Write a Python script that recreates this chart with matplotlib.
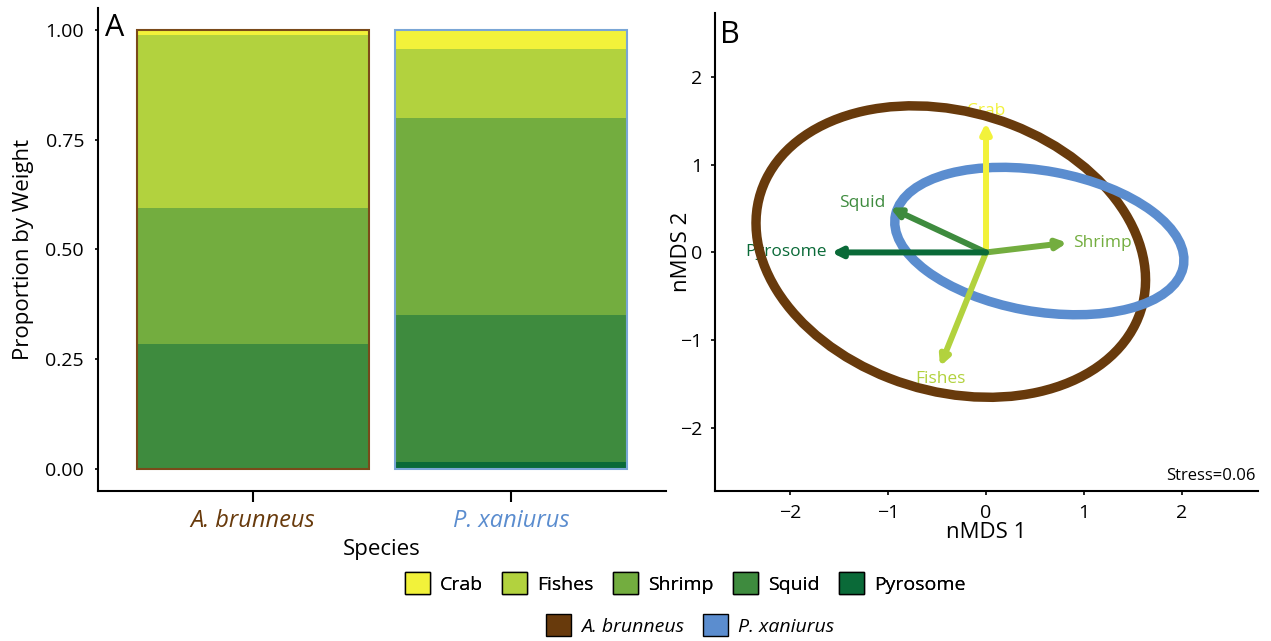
import numpy as np
import matplotlib.pyplot as plt
from matplotlib.patches import Patch, Ellipse

plt.rcParams['font.family'] = ['Open Sans', 'DejaVu Sans']

species = ['A. brunneus', 'P. xaniurus']
prey = ['Crab', 'Fishes', 'Shrimp', 'Squid', 'Pyrosome']

# proportion by weight per species
crab = [0.011, 0.043]
fishes = [0.394, 0.158]
shrimp = [0.311, 0.449]
squid = [0.284, 0.335]
pyrosome = [0.0, 0.015]

prey_colors = ['#f2f23a', '#b2d23e', '#73ad3f', '#3e8b3e', '#0a6a38']
species_colors = ['#683a0c', '#5b8dcf']
edge_colors = ['#7a4a1a', '#7aa6d6']

# nMDS vector tips (Crab, Fishes, Shrimp, Squid, Pyrosome)
vec_x = [0.0, -0.47, 0.83, -0.98, -1.58]
vec_y = [1.48, -1.30, 0.11, 0.51, 0.0]

# 95% ellipses per species
ell_cx = [-0.36, 0.545]
ell_cy = [0.01, 0.13]
ell_a = [2.06, 1.50]
ell_b = [1.575, 0.80]
ell_angle = [-23.5, -11.7]

stress = 0.06

fig = plt.figure(figsize=(12.71, 6.41), dpi=100)
axA = fig.add_axes([98 / 1271, 1 - 491 / 641, (666 - 98) / 1271, (491 - 8) / 641])
axB = fig.add_axes([715 / 1271, 1 - 491 / 641, (1258 - 715) / 1271, (491 - 13) / 641])

# ---- panel A: stacked bars
x = np.arange(1, len(species) + 1)
stack = [pyrosome, squid, shrimp, fishes, crab]
stack_cols = prey_colors[::-1]
bottom = np.zeros(len(species))
for vals, c in zip(stack, stack_cols):
    axA.bar(x, vals, bottom=bottom, width=0.9, color=c, linewidth=0)
    bottom += np.array(vals)
axA.bar(x, bottom, width=0.9, fill=False, edgecolor=edge_colors, linewidth=1.5)

axA.set_xlim(0.4, 2.6)
axA.set_ylim(-0.05, 1.05)
axA.set_yticks([0, 0.25, 0.5, 0.75, 1.0])
axA.set_yticklabels(['0.00', '0.25', '0.50', '0.75', '1.00'])
axA.set_xticks(x)
axA.set_xticklabels(species, style='italic', fontsize=17)
for lab, c in zip(axA.get_xticklabels(), species_colors):
    lab.set_color(c)
axA.tick_params(axis='y', length=2, width=1.2, labelsize=14, pad=8)
axA.tick_params(axis='x', length=8, width=1.5, pad=5)
axA.set_xlabel('Species', fontsize=16, labelpad=4)
axA.set_ylabel('Proportion by Weight', fontsize=16, labelpad=8)
for s in ['top', 'right']:
    axA.spines[s].set_visible(False)
for s in ['left', 'bottom']:
    axA.spines[s].set_linewidth(1.5)
axA.text(0.012, 0.99, 'A', transform=axA.transAxes, fontsize=22, va='top', ha='left')

# ---- panel B: nMDS
label_pos = {
    'Crab': dict(dx=0, dy=0.04, ha='center', va='bottom'),
    'Fishes': dict(dx=0, dy=-0.05, ha='center', va='top'),
    'Shrimp': dict(dx=0.06, dy=0.0, ha='left', va='center'),
    'Squid': dict(dx=-0.05, dy=0.05, ha='right', va='center'),
    'Pyrosome': dict(dx=-0.05, dy=0.0, ha='right', va='center'),
}
for name, vx, vy, c in zip(prey, vec_x, vec_y, prey_colors):
    axB.annotate('', xy=(vx, vy), xytext=(0, 0),
                 arrowprops=dict(arrowstyle='-|>', lw=4.3, color=c, mutation_scale=14,
                                 shrinkA=0, shrinkB=0), zorder=3)
    p = label_pos[name]
    axB.text(vx + p['dx'], vy + p['dy'], name, color=c, fontsize=12.5,
             ha=p['ha'], va=p['va'], zorder=1)

for cx, cy, a, b, ang, c in zip(ell_cx, ell_cy, ell_a, ell_b, ell_angle, species_colors):
    axB.add_patch(Ellipse((cx, cy), 2 * a, 2 * b, angle=ang, fill=False,
                          edgecolor=c, linewidth=6.8, zorder=2))

axB.set_xlim(-2.77, 2.78)
axB.set_ylim(-2.72, 2.73)
axB.set_xticks([-2, -1, 0, 1, 2])
axB.set_yticks([-2, -1, 0, 1, 2])
axB.set_xticklabels(['\u22122', '\u22121', '0', '1', '2'])
axB.set_yticklabels(['\u22122', '\u22121', '0', '1', '2'])
axB.tick_params(length=3, width=1.2, labelsize=14, pad=6)
axB.set_xlabel('nMDS 1', fontsize=16, labelpad=0)
axB.set_ylabel('nMDS 2', fontsize=16)
axB.yaxis.set_label_coords(-0.042, 0.5)
for s in ['top', 'right']:
    axB.spines[s].set_visible(False)
for s in ['left', 'bottom']:
    axB.spines[s].set_linewidth(1.5)
axB.text(0.01, 0.985, 'B', transform=axB.transAxes, fontsize=22, va='top', ha='left')
axB.text(0.995, 0.015, 'Stress=%.2f' % stress, transform=axB.transAxes,
         fontsize=12, ha='right', va='bottom')

# ---- legends
prey_handles = [Patch(facecolor=c, edgecolor='black', linewidth=1) for c in prey_colors]
leg1 = fig.legend(prey_handles, prey, loc='center', bbox_to_anchor=(685 / 1271, 1 - 583 / 641),
                  ncol=5, frameon=False, fontsize=14, handlelength=1.3, handleheight=1.3,
                  handletextpad=0.5, columnspacing=1.0)
sp_handles = [Patch(facecolor=c, edgecolor='black', linewidth=1) for c in species_colors]
leg2 = fig.legend(sp_handles, species, loc='center', bbox_to_anchor=(690 / 1271, 1 - 625 / 641),
                  ncol=2, frameon=False, prop=dict(size=14, style='italic'), handlelength=1.3,
                  handleheight=1.3, handletextpad=0.5, columnspacing=1.0)
fig.add_artist(leg1)

fig.savefig('out.png', dpi=100)
